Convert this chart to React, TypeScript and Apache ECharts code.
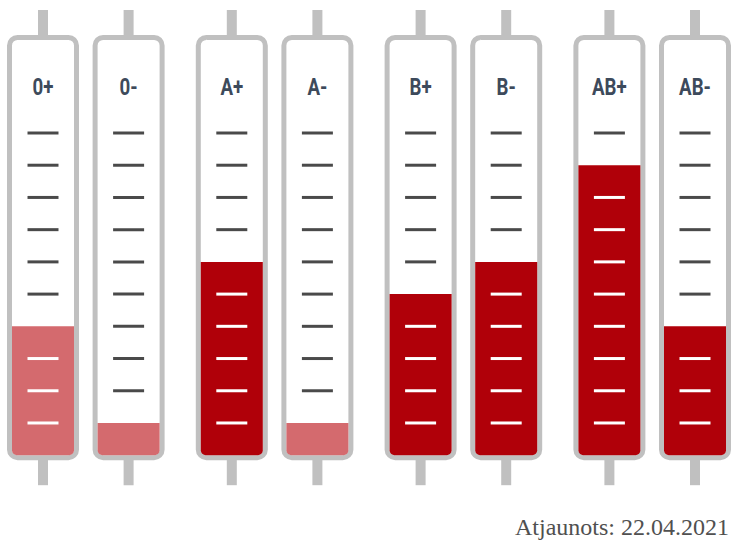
import React, { useEffect, useRef } from "react";
import * as echarts from "echarts";

// ---- data ----
const groups = ["0", "A", "B", "AB"];
const bloodTypes = ["0+", "0-", "A+", "A-", "B+", "B-", "AB+", "AB-"];
const groupOfType = [0, 0, 1, 1, 2, 2, 3, 3];
const signOfType = [0, 1, 0, 1, 0, 1, 0, 1]; // 0 = positive, 1 = negative
const levels = [4, 1, 6, 1, 5, 6, 9, 4];
const lowStock = [1, 1, 0, 1, 0, 0, 0, 0];
const tickValues = [1, 2, 3, 4, 5, 6, 7, 8, 9, 10];
const updatedText = "Atjaunots: 22.04.2021";

const GRAY = "#c0c0c0";
const DARK_RED = "#b00009";
const LIGHT_RED = "#d46a6e";
const TICK_DARK = "#4a4a4a";
const LABEL_COLOR = "#3d4a5b";

export default function App() {
  const ref = useRef<HTMLDivElement>(null);

  useEffect(() => {
    if (!ref.current) return;
    const chart = echarts.init(ref.current, undefined, { renderer: "svg" });

    const data = bloodTypes.map((_, i) => [groupOfType[i], levels[i], signOfType[i], lowStock[i]]);

    const renderItem = (params: any, api: any) => {
      const g = api.value(0);
      const level = api.value(1);
      const sign = api.value(2);
      const low = api.value(3);
      const p0 = api.coord([g, 0]);
      const y0 = p0[1];
      const y10 = api.coord([g, 10])[1];
      const yl = api.coord([g, level])[1];
      const cx = p0[0] + (sign === 0 ? -42.8 : 42.8);

      const children: any[] = [];
      children.push({
        type: "rect",
        shape: { x: cx - 5, y: y10 - 123, width: 10, height: 30 },
        style: { fill: GRAY },
      });
      children.push({
        type: "rect",
        shape: { x: cx - 5, y: y0, width: 10, height: 30 },
        style: { fill: GRAY },
      });
      children.push({
        type: "rect",
        shape: { x: cx - 33.5, y: y10 - 95.5, width: 67, height: y0 + 2.5 - (y10 - 95.5), r: 8 },
        style: { fill: "#ffffff", stroke: GRAY, lineWidth: 5 },
      });
      if (level > 0) {
        children.push({
          type: "rect",
          shape: { x: cx - 31, y: yl, width: 62, height: y0 - yl, r: [0, 0, 5, 5] },
          style: { fill: low ? LIGHT_RED : DARK_RED },
        });
      }
      tickValues.forEach((v) => {
        if (v === level) return;
        const y = api.coord([g, v])[1];
        children.push({
          type: "rect",
          shape: { x: cx - 15.5, y: y - 1.5, width: 31, height: 3 },
          style: { fill: v < level ? "#ffffff" : TICK_DARK },
        });
      });
      children.push({
        type: "text",
        x: cx,
        y: y10 - 46,
        scaleX: 0.78,
        style: {
          text: bloodTypes[params.dataIndex],
          fill: LABEL_COLOR,
          font: "bold 24px Roboto, 'Noto Sans', sans-serif",
          align: "center",
          verticalAlign: "middle",
        },
      });
      return { type: "group", children };
    };

    chart.setOption({
      animation: false,
      grid: { left: -8.6, right: -4.6, top: 133, bottom: 91.8, outerBoundsMode: "none" },
      xAxis: { type: "category", data: groups, show: false },
      yAxis: { type: "value", min: 0, max: 10, show: false, splitLine: { show: false } },
      series: [
        {
          type: "custom",
          renderItem,
          data,
          encode: { x: 0, y: 1 },
          clip: false,
        },
      ],
      graphic: [
        {
          type: "text",
          x: 729,
          y: 527,
          style: {
            text: updatedText,
            fill: "#505050",
            font: "24px 'Liberation Serif', 'DejaVu Serif', serif",
            align: "right",
            verticalAlign: "middle",
          },
        },
      ],
    });

    return () => chart.dispose();
  }, []);

  return (
    <div
      ref={ref}
      style={{ position: "fixed", left: 0, top: 0, width: 742, height: 547, background: "#fff" }}
    />
  );
}
